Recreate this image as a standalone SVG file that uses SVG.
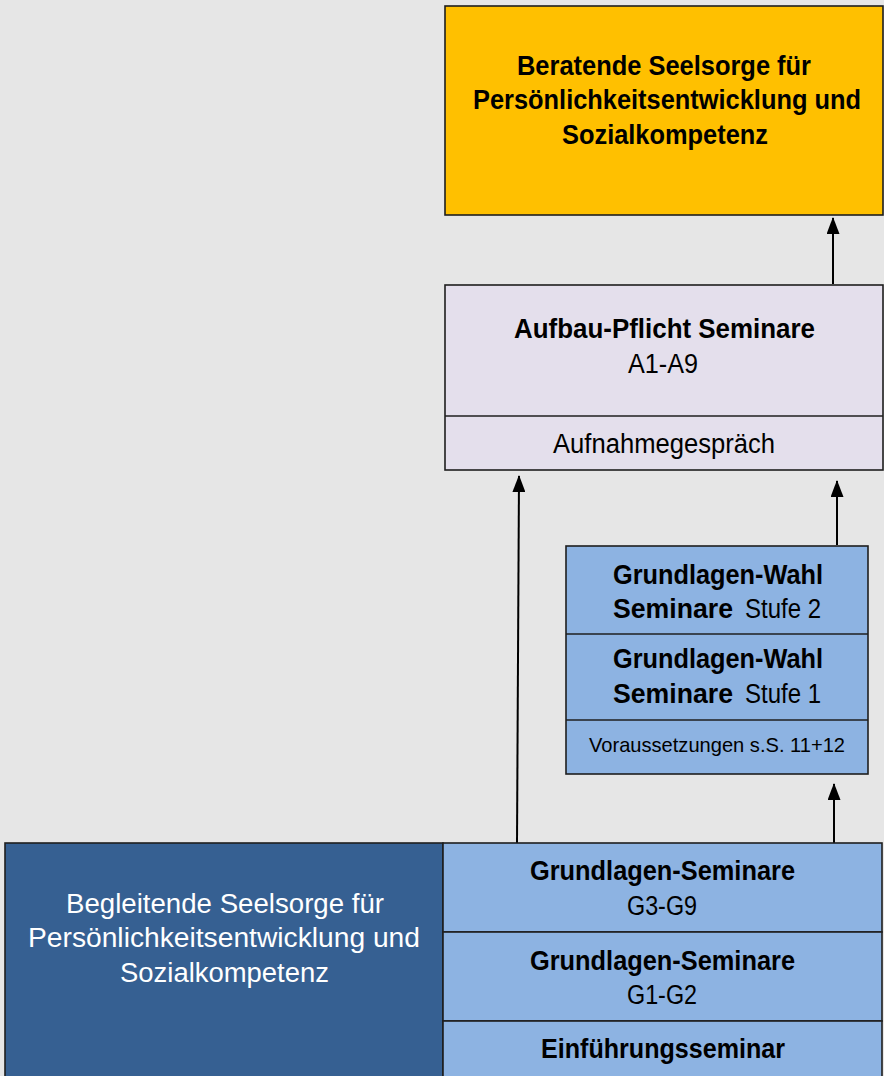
<svg xmlns="http://www.w3.org/2000/svg" width="884" height="1076" viewBox="0 0 884 1076">
<defs>
<style>
.t{font-family:"Liberation Sans","DejaVu Sans",sans-serif;font-size:27px;fill:#000;}
.b{font-weight:bold;}
.w{fill:#fff;}
.s{font-size:21px;}
.box{stroke:#1f1f1f;stroke-width:1.6;}
.con{stroke:#000;stroke-width:2;fill:none;}
</style>
<marker id="ah" markerWidth="17" markerHeight="13" refX="16" refY="6.5" orient="auto" markerUnits="userSpaceOnUse" viewBox="0 0 17 13">
<path d="M0,0 L17,6.5 L0,13 Z" fill="#000"/>
</marker>
</defs>
<rect x="0" y="0" width="884" height="1076" fill="#e6e6e6"/>

<g id="connectors">
<line class="con" x1="833" y1="284" x2="833" y2="218" marker-end="url(#ah)"/>
<line class="con" x1="517" y1="843" x2="519" y2="476" marker-end="url(#ah)"/>
<line class="con" x1="837" y1="545" x2="837" y2="481" marker-end="url(#ah)"/>
<line class="con" x1="834" y1="843" x2="834" y2="784" marker-end="url(#ah)"/>
</g>

<g id="beratende">
<rect class="box" x="445" y="6" width="438" height="209" fill="#ffc000"/>
<text class="t b" x="517" y="75" textLength="294" lengthAdjust="spacingAndGlyphs">Beratende Seelsorge für</text>
<text class="t b" x="473" y="109" textLength="388" lengthAdjust="spacingAndGlyphs">Persönlichkeitsentwicklung und</text>
<text class="t b" x="562" y="144" textLength="206" lengthAdjust="spacingAndGlyphs">Sozialkompetenz</text>
</g>

<g id="aufbau">
<rect class="box" x="445" y="285" width="438" height="185" fill="#e4dfec"/>
<line class="box" x1="445" y1="416" x2="883" y2="416"/>
<text class="t b" x="514" y="338" textLength="301" lengthAdjust="spacingAndGlyphs">Aufbau-Pflicht Seminare</text>
<text class="t" x="628" y="373" textLength="70" lengthAdjust="spacingAndGlyphs">A1-A9</text>
<text class="t" x="553" y="453" textLength="222" lengthAdjust="spacingAndGlyphs">Aufnahmegespräch</text>
</g>

<g id="wahl">
<rect class="box" x="566" y="546" width="302" height="228" fill="#8db3e2"/>
<line class="box" x1="566" y1="634" x2="868" y2="634"/>
<line class="box" x1="566" y1="720" x2="868" y2="720"/>
<text class="t b" x="613" y="584" textLength="210" lengthAdjust="spacingAndGlyphs">Grundlagen-Wahl</text>
<text class="t b" x="613" y="618" textLength="120" lengthAdjust="spacingAndGlyphs">Seminare</text>
<text class="t" x="745" y="618" textLength="76" lengthAdjust="spacingAndGlyphs">Stufe 2</text>
<text class="t b" x="613" y="668" textLength="210" lengthAdjust="spacingAndGlyphs">Grundlagen-Wahl</text>
<text class="t b" x="613" y="703" textLength="120" lengthAdjust="spacingAndGlyphs">Seminare</text>
<text class="t" x="745" y="703" textLength="76" lengthAdjust="spacingAndGlyphs">Stufe 1</text>
<text class="t s" x="589" y="752" textLength="256" lengthAdjust="spacingAndGlyphs">Voraussetzungen s.S. 11+12</text>
</g>

<g id="begleitende">
<rect class="box" x="5" y="843" width="438" height="240" fill="#366092"/>
<text class="t w" x="66" y="913" textLength="318" lengthAdjust="spacingAndGlyphs">Begleitende Seelsorge für</text>
<text class="t w" x="28" y="947" textLength="392" lengthAdjust="spacingAndGlyphs">Persönlichkeitsentwicklung und</text>
<text class="t w" x="120" y="982" textLength="209" lengthAdjust="spacingAndGlyphs">Sozialkompetenz</text>
</g>

<g id="grundlagen-g3-g9">
<rect class="box" x="443" y="843" width="439" height="89" fill="#8db3e2"/>
<text class="t b" x="530" y="880" textLength="265" lengthAdjust="spacingAndGlyphs">Grundlagen-Seminare</text>
<text class="t" x="627" y="915" textLength="70" lengthAdjust="spacingAndGlyphs">G3-G9</text>
</g>

<g id="grundlagen-g1-g2">
<rect class="box" x="443" y="932" width="439" height="89" fill="#8db3e2"/>
<text class="t b" x="530" y="970" textLength="265" lengthAdjust="spacingAndGlyphs">Grundlagen-Seminare</text>
<text class="t" x="627" y="1004" textLength="70" lengthAdjust="spacingAndGlyphs">G1-G2</text>
</g>

<g id="einfuehrung">
<rect class="box" x="443" y="1021" width="439" height="62" fill="#8db3e2"/>
<text class="t b" x="541" y="1058" textLength="244" lengthAdjust="spacingAndGlyphs">Einführungsseminar</text>
</g>
</svg>
